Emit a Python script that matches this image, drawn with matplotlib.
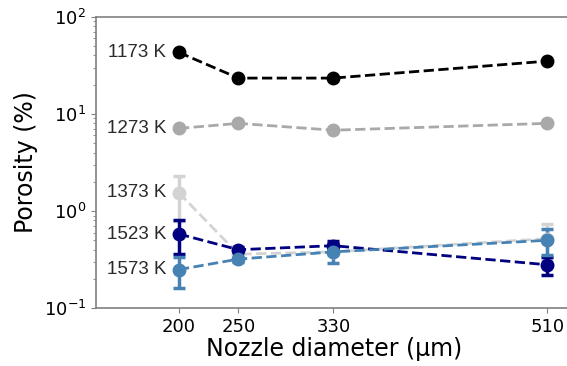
import numpy as np
import matplotlib.pyplot as plt

# nozzle diameters (um)
nozzle = [200, 250, 330, 510]

temps = ['1173 K', '1273 K', '1373 K', '1523 K', '1573 K']
colors = ['black', 'darkgray', 'lightgray', 'navy', 'steelblue']

# porosity (%) and error bars
p1173 = [43, 23.4, 23.4, 35]
e1173 = [0, 0, 0, 0]
p1273 = [7.1, 8.0, 6.8, 8.0]
e1273 = [0, 0, 0, 0]
p1373 = [1.54, 0.36, 0.38, 0.52]
e1373 = [0.75, 0.03, 0.03, 0.21]
p1523 = [0.58, 0.40, 0.44, 0.28]
e1523 = [0.22, 0.03, 0.05, 0.06]
p1573 = [0.25, 0.32, 0.38, 0.50]
e1573 = [0.09, 0.02, 0.09, 0.15]

series = [p1173, p1273, p1373, p1523, p1573]
errs = [e1173, e1273, e1373, e1523, e1573]

fig = plt.figure(figsize=(5.67, 3.66), dpi=100)
ax = fig.add_axes([0.169, 0.158, 0.84, 0.796])

for name, col, y, e in zip(temps, colors, series, errs):
    ax.errorbar(nozzle, y, yerr=e, fmt='o--', color=col, ms=9, lw=2,
                elinewidth=2.5, capsize=4, capthick=2.5)
    ax.annotate(name, xy=(nozzle[0], y[0]), xytext=(-9, 0),
                textcoords='offset points', ha='right', va='center',
                fontsize=13.5, family='Liberation Sans', color='#2a2a2a')

ax.set_yscale('log')
ax.set_ylim(0.1, 100)
ax.set_xlim(130, 531)
ax.set_xticks(nozzle)
ax.set_xticklabels([str(n) for n in nozzle])
ax.set_xlabel('Nozzle diameter (µm)', fontsize=17, labelpad=1)
ax.set_ylabel('Porosity (%)', fontsize=17)
ax.tick_params(labelsize=13, color='gray')
ax.tick_params(which='minor', color='gray')
for s in ax.spines.values():
    s.set_color('gray')
    s.set_linewidth(1.2)
ax.spines['right'].set_visible(False)

plt.savefig('out.png', dpi=100)
